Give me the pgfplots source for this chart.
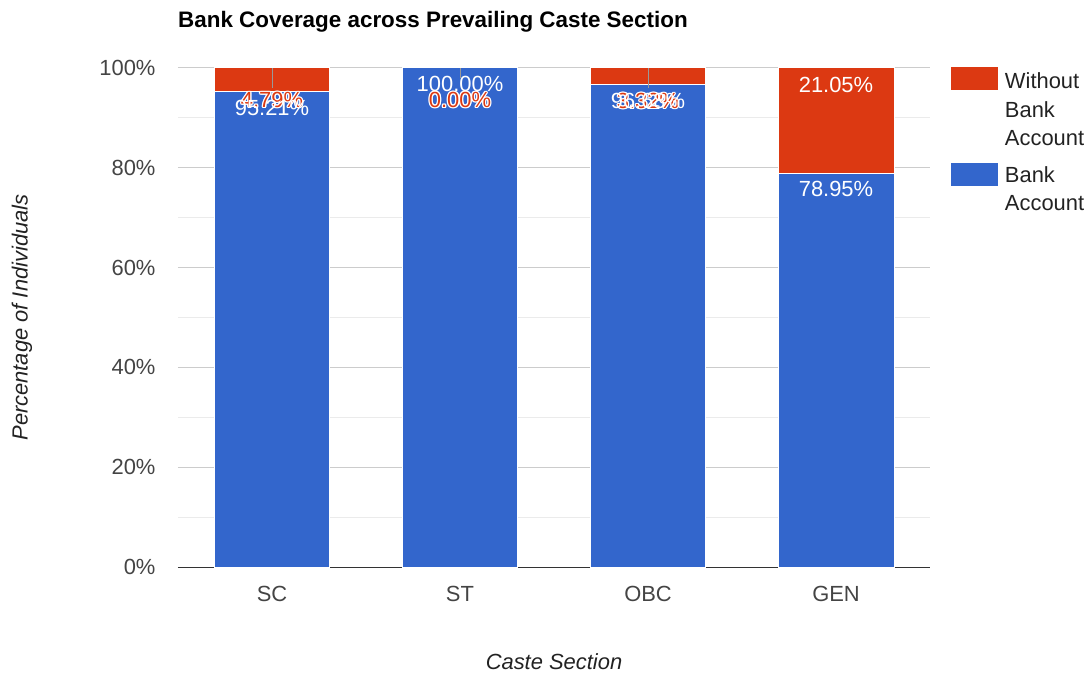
\documentclass[border=0pt]{standalone}
\usepackage{pgfplots}
\pgfplotsset{compat=1.18}
\usepackage{pgfplotstable}
\usepackage{fontspec}
\setmainfont{Liberation Sans}

\definecolor{bankblue}{HTML}{3366CC}
\definecolor{nobankred}{HTML}{DC3912}
\definecolor{gridmaj}{HTML}{CCCCCC}
\definecolor{gridmin}{HTML}{EBEBEB}
\definecolor{ticktext}{HTML}{444444}
\definecolor{legtext}{HTML}{222222}
\definecolor{stemgray}{HTML}{999999}

% white halo round a label, as the small segments have
\newcommand\haloat[2]{\rlap{\kern#1\raise#2\hbox{\textcolor{white}{\copy0}}}}
\newcommand\halotext[2]{%
  \setbox0=\hbox{#2}%
  \rlap{\kern0.5\wd0\kern-0.4bp\textcolor{stemgray}{\smash{\rule[\dimexpr\labdy bp+8bp-\labstem bp\relax]{0.8bp}{\labstem bp}}}}%
  \haloat{1.3bp}{0bp}\haloat{-1.3bp}{0bp}\haloat{0bp}{1.3bp}\haloat{0bp}{-1.3bp}%
  \haloat{0.9bp}{0.9bp}\haloat{-0.9bp}{0.9bp}\haloat{0.9bp}{-0.9bp}\haloat{-0.9bp}{-0.9bp}%
  \textcolor{#1}{\copy0}}
\newcommand\pct{\pgfmathprintnumber[fixed,fixed zerofill,precision=2]{\pgfplotspointmeta}\%}
\newcommand\redlabel{\ifdim\labhalo pt>0.5pt \halotext{nobankred}{\pct}\else\textcolor{white}{\pct}\fi}

% dy: label centre below the 100% line (bp); stem: length of the grey stem (bp)
\pgfplotstableread{
x bank without dy halo stem
0 95.21 4.79 32 1 20
1 100.00 0.00 32 1 10
2 96.68 3.32 33 1 20
3 78.95 21.05 17 0 0
}\coverage

\begin{document}
\begin{tikzpicture}
\begin{axis}[
    scale only axis,
    width=752bp, height=499bp,
    at={(0,0)}, anchor=south west,
    ybar stacked,
    stacked ignores zero=false,
    bar width=0.617,
    xmin=-0.5, xmax=3.5,
    ymin=0, ymax=100,
    xtick={0,1,2,3},
    xticklabels={SC,ST,OBC,GEN},
    ytick={0,20,...,100},
    minor ytick={10,30,...,90},
    yticklabel={\pgfmathprintnumber{\tick}\%},
    /pgf/number format/assume math mode=true,
    ymajorgrids, yminorgrids,
    major grid style={draw=gridmaj, line width=1bp},
    minor grid style={draw=gridmin, line width=1bp},
    separate axis lines,
    axis x line*=bottom, axis y line*=left,
    y axis line style={draw=none},
    x axis line style={draw=black!80, line width=1bp, -},
    major tick length=0pt, minor tick length=0pt,
    tick style={draw=none},
    tick label style={font=\fontsize{22}{26}\selectfont, text=ticktext},
    xticklabel style={yshift=-16bp},
    yticklabel style={xshift=-19bp},
    title={Bank Coverage across Prevailing Caste Section},
    title style={at={(axis description cs:0,1.0701)}, anchor=base west, inner sep=0pt,
        font=\bfseries\fontsize{22.5}{26}\selectfont},
    xlabel={Caste Section},
    xlabel style={at={(axis description cs:0.5,-0.1904)}, anchor=center,
        font=\itshape\fontsize{22}{26}\selectfont, text=legtext},
    ylabel={Percentage of Individuals},
    ylabel style={at={(axis description cs:-0.2074,0.5)}, anchor=center,
        font=\itshape\fontsize{22}{26}\selectfont, text=legtext},
    legend style={at={(axis description cs:1.0279,1.002)}, anchor=north west,
        draw=none, fill=none, inner sep=0pt, outer sep=0pt,
        font=\fontsize{22}{28.5}\selectfont, text=legtext,
        row sep=14bp, column sep=5bp,
        cells={align=left, anchor=base west}},
    reverse legend,
]
\addplot[fill=bankblue, draw=white, line width=1bp,
    point meta=\thisrow{bank},
    visualization depends on={\thisrow{bank} \as \bv},
    nodes near coords={\pct},
    every node near coord/.append style={anchor=center, yshift={\bv*2.495bp-16bp}, text=white,
        font=\fontsize{22}{26}\selectfont},
    legend image code/.code={\fill[bankblue] (0bp,25.5bp) rectangle (46bp,47.5bp);},
    ] table[x=x, y=bank] {\coverage};
\addlegendentry{Bank\\Account}
\addplot[fill=nobankred, draw=white, line width=1bp,
    point meta=\thisrow{without},
    visualization depends on={\thisrow{without} \as \rv},
    visualization depends on={\thisrow{dy} \as \labdy},
    visualization depends on={\thisrow{halo} \as \labhalo},
    visualization depends on={\thisrow{stem} \as \labstem},
    nodes near coords={\redlabel},
    every node near coord/.append style={anchor=center, yshift={\rv*2.495bp-\labdy bp},
        font=\fontsize{22}{26}\selectfont},
    legend image code/.code={\fill[nobankred] (0bp,56bp) rectangle (46bp,78bp);},
    ] table[x=x, y=without] {\coverage};
\addlegendentry{Without\\Bank\\Account}
\end{axis}
\pgfresetboundingbox
\path[use as bounding box] (-178bp,-110bp) rectangle (914bp,567bp);
\end{tikzpicture}
\end{document}
